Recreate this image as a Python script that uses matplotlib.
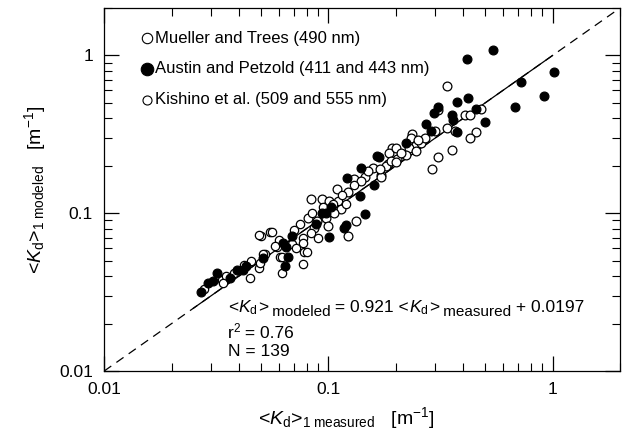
import numpy as np
import matplotlib.pyplot as plt
import matplotlib.transforms as mtransforms
from matplotlib.ticker import LogLocator, NullFormatter, FixedLocator, FixedFormatter

plt.rcParams['font.family'] = ['Liberation Sans', 'DejaVu Sans']
plt.rcParams['mathtext.fontset'] = 'custom'
plt.rcParams['mathtext.rm'] = 'Liberation Sans'
plt.rcParams['mathtext.it'] = 'Liberation Sans:italic'

# Austin and Petzold (411 and 443 nm), filled
austin_meas = [0.54, 0.415, 1.02, 0.72, 0.92, 0.68, 0.374, 0.42, 0.455, 0.31,
               0.296, 0.356, 0.36, 0.374, 0.5, 0.273, 0.286, 0.222, 0.169, 0.165,
               0.14, 0.121, 0.16, 0.139, 0.146, 0.12, 0.118, 0.101, 0.098, 0.103,
               0.066, 0.069, 0.0625, 0.027, 0.029, 0.0318, 0.0305, 0.0363, 0.039, 0.0415,
               0.043, 0.051, 0.064, 0.065, 0.094, 0.088]
austin_mod = [1.09, 0.944, 0.79, 0.68, 0.55, 0.475, 0.51, 0.54, 0.46, 0.47,
              0.435, 0.42, 0.39, 0.326, 0.38, 0.366, 0.33, 0.277, 0.226, 0.23,
              0.193, 0.167, 0.15, 0.128, 0.099, 0.084, 0.081, 0.071, 0.101, 0.109,
              0.053, 0.072, 0.065, 0.0316, 0.036, 0.0417, 0.037, 0.039, 0.044, 0.044,
              0.046, 0.052, 0.046, 0.061, 0.1, 0.086]

# Mueller and Trees (490 nm), open
mueller_meas = [0.34, 0.31, 0.405, 0.43, 0.48, 0.34, 0.366, 0.455, 0.43, 0.356,
                0.31, 0.29, 0.236, 0.234, 0.245, 0.229, 0.192, 0.187, 0.245, 0.222,
                0.203, 0.184, 0.172, 0.158, 0.172, 0.109, 0.123, 0.084, 0.094, 0.101,
                0.114, 0.106, 0.098, 0.089, 0.081, 0.086, 0.1, 0.133, 0.123,
                0.13, 0.145, 0.15, 0.18, 0.19, 0.2, 0.21, 0.26, 0.27, 0.3,
                0.2, 0.25, 0.17, 0.14]
mueller_mod = [0.64, 0.45, 0.417, 0.42, 0.46, 0.345, 0.33, 0.326, 0.30, 0.25,
               0.226, 0.19, 0.32, 0.30, 0.27, 0.26, 0.26, 0.24, 0.247, 0.233,
               0.22, 0.204, 0.174, 0.193, 0.169, 0.142, 0.136, 0.123, 0.123, 0.12,
               0.107, 0.1, 0.093, 0.089, 0.093, 0.081, 0.083, 0.089, 0.072,
               0.165, 0.17, 0.185, 0.2, 0.215, 0.26, 0.24, 0.28, 0.3, 0.33,
               0.21, 0.29, 0.19, 0.16]

# Kishino et al. (509 and 555 nm), open
kishino_meas = [0.077, 0.084, 0.09, 0.055, 0.05, 0.077, 0.069, 0.059, 0.078, 0.052,
                0.061, 0.028, 0.0335, 0.0446, 0.049, 0.0497, 0.051, 0.049, 0.056, 0.062,
                0.062, 0.077, 0.08, 0.11, 0.115, 0.095, 0.075, 0.07, 0.06, 0.045,
                0.042, 0.035, 0.038, 0.13, 0.12, 0.085, 0.072, 0.105, 0.058, 0.034]
kishino_mod = [0.07, 0.075, 0.07, 0.076, 0.072, 0.065, 0.064, 0.061, 0.057, 0.055,
               0.053, 0.033, 0.0376, 0.039, 0.045, 0.0483, 0.055, 0.0726, 0.076, 0.053,
               0.0417, 0.048, 0.057, 0.12, 0.13, 0.11, 0.085, 0.078, 0.068, 0.05,
               0.047, 0.04, 0.042, 0.15, 0.115, 0.1, 0.06, 0.115, 0.062, 0.036]

ticks = [0.01, 0.1, 1]
tick_labels = ['0.01', '0.1', '1']

fig = plt.figure(figsize=(6.31, 4.34), dpi=100)
ax = fig.add_axes([0.165, 0.145, 0.8176, 0.8366])
renderer = fig.canvas.get_renderer()


def rich_text(x, y, pieces):
    """Place text pieces side by side on one baseline: (text, size, dy px)."""
    dx = 0
    for s, size, dy in pieces:
        tr = mtransforms.offset_copy(ax.transAxes, fig=fig, x=dx, y=dy, units='dots')
        t = ax.text(x, y, s, transform=tr, fontsize=size, va='baseline')
        dx += t.get_window_extent(renderer).width


# 1:1 line, dashed across, solid over the data range
ax.plot([0.01, 2], [0.01, 2], color='black', lw=0.9, dashes=(7, 5), zorder=1)
ax.plot([0.025, 1.0], [0.025, 1.0], color='black', lw=0.9, zorder=1)

ax.scatter(mueller_meas, mueller_mod, s=40, facecolors='white', edgecolors='black',
           linewidths=0.9, zorder=3)
ax.scatter(kishino_meas, kishino_mod, s=36, facecolors='white', edgecolors='black',
           linewidths=0.9, zorder=3)
ax.scatter(austin_meas, austin_mod, s=40, facecolors='black', edgecolors='black',
           linewidths=0.9, zorder=4)

ax.set_xscale('log')
ax.set_yscale('log')
ax.set_xlim(0.01, 2)
ax.set_ylim(0.01, 2)

for axis in (ax.xaxis, ax.yaxis):
    axis.set_major_locator(FixedLocator(ticks))
    axis.set_major_formatter(FixedFormatter(tick_labels))
    axis.set_minor_locator(LogLocator(base=10, subs=np.arange(2, 10), numticks=10))
    axis.set_minor_formatter(NullFormatter())

ax.tick_params(which='major', direction='in', length=11, width=0.9,
               top=True, right=True, labelsize=12.5, pad=8)
ax.tick_params(which='minor', direction='in', length=6, width=0.8,
               top=True, right=True)
for sp in ax.spines.values():
    sp.set_linewidth(0.9)

ax.set_xlabel(r'<$K_\mathrm{d}$>$_\mathrm{1\ measured}$   [m$^{-1}$]', fontsize=14, labelpad=5)
ax.xaxis.set_label_coords(0.47, -0.095)
ax.set_ylabel(r'<$K_\mathrm{d}$>$_\mathrm{1\ modeled}$   [m$^{-1}$]', fontsize=14, labelpad=8)

# legend drawn by hand, as in the original
leg_items = [('Mueller and Trees (490 nm)', 'white', 7.5),
             ('Austin and Petzold (411 and 443 nm)', 'black', 9),
             ('Kishino et al. (509 and 555 nm)', 'white', 6.5)]
for i, (label, fc, ms) in enumerate(leg_items):
    yy = 0.917 - i * 0.085
    ax.plot([0.083], [yy], marker='o', ms=ms, mfc=fc, mec='black', mew=0.8,
            transform=ax.transAxes, clip_on=False)
    ax.text(0.099, yy, label, transform=ax.transAxes, fontsize=12, va='center')

kd = r'$K_\mathrm{d}$'
rich_text(0.24, 0.162, [('<', 12.5, 0), (kd, 12.5, 0), ('>', 12.5, 0),
                        (' modeled', 11, -4), (' = 0.921 <', 12.5, 0), (kd, 12.5, 0),
                        ('>', 12.5, 0), (' measured', 11, -4), (' + 0.0197', 12.5, 0)])
rich_text(0.24, 0.092, [('r', 12.5, 0), ('2', 8.5, 6), (' = 0.76', 12.5, 0)])
rich_text(0.24, 0.042, [('N = 139', 12.5, 0)])

fig.savefig('out.png', dpi=100)
